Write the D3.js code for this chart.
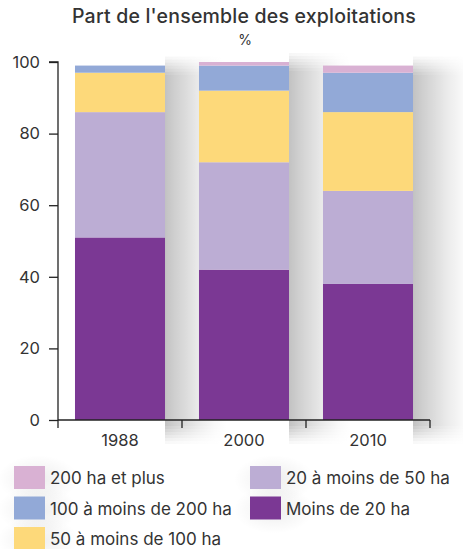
<!DOCTYPE html>
<html>
<head>
<meta charset="utf-8">
<script src="https://cdn.jsdelivr.net/npm/d3@7"></script>
<style>
body { margin: 0; background: #fff; }
text { font-family: Inter, "Liberation Sans", Arial, sans-serif; fill: #333; }
</style>
</head>
<body>
<div id="root"></div>
<script>
var width = 463;
var height = 549;

// data (% of farms)
var years = ["1988", "2000", "2010"];
var categories = ["Moins de 20 ha", "20 à moins de 50 ha", "50 à moins de 100 ha", "100 à moins de 200 ha", "200 ha et plus"];
var moins20 = [51, 42, 38];
var de20a50 = [35, 30, 26];
var de50a100 = [11, 20, 22];
var de100a200 = [2, 7, 11];
var plus200 = [0, 1, 2];
var colors = ["#7b3894", "#bcadd4", "#fdd97a", "#92a9d7", "#d9b1d3"];
var yTicks = [0, 20, 40, 60, 80, 100];

var svg = d3.select("#root")
.append("svg")
.attr("width", width)
.attr("height", height);

/*
grey shadow right of each bar, drawn with a gradient
(fades out to the right)
*/
var defs = svg.append("defs");
var sideShade = defs.append("linearGradient")
.attr("id", "sideShade")
.attr("x1", 0).attr("x2", 1).attr("y1", 0).attr("y2", 0);
[[0, 0.24], [0.15, 0.19], [0.55, 0.08], [0.8, 0.025], [1, 0]].forEach(function(s) {
	sideShade.append("stop")
	.attr("offset", s[0])
	.attr("stop-color", "#000")
	.attr("stop-opacity", s[1]);
});
var legendShade = defs.append("radialGradient")
.attr("id", "legendShade");
[[0, 0.07], [1, 0]].forEach(function(s) {
	legendShade.append("stop")
	.attr("offset", s[0])
	.attr("stop-color", "#000")
	.attr("stop-opacity", s[1]);
});

// build rows for the stack
var table = years.map(function(y, i) {
	return {
		year: y,
		"Moins de 20 ha": moins20[i],
		"20 à moins de 50 ha": de20a50[i],
		"50 à moins de 100 ha": de50a100[i],
		"100 à moins de 200 ha": de100a200[i],
		"200 ha et plus": plus200[i]
	};
});
var stack = d3.stack().keys(categories)(table);

var x = d3.scaleBand()
.domain(years)
.range([58, 430])
.paddingInner(0.274)
.paddingOuter(0.137);

var y = d3.scaleLinear()
.domain([0, 100])
.range([420, 62]);

var color = d3.scaleOrdinal()
.domain(categories)
.range(colors);

function total(d) {
	return d3.sum(categories, function(k) { return d[k]; });
}

/*
shadow body + thin slices at top and bottom so the ends fade out
slice: [offset from top of bar (or from axis), opacity]
*/
var topSlices = [[-9, 0.15], [-6, 0.3], [-3, 0.45], [0, 0.6], [3, 0.75], [6, 0.9]];
var bottomSlices = [[6, 0.85], [9, 0.7], [12, 0.55], [15, 0.4], [18, 0.25], [21, 0.12]];
var shadowW = 62;

var shadows = svg.append("g")
.selectAll("g")
.data(table)
.enter()
.append("g");
shadows.append("rect")
.attr("x", function(d) { return x(d.year) + x.bandwidth(); })
.attr("width", shadowW)
.attr("y", function(d) { return y(total(d)) + 9; })
.attr("height", function(d) { return y(0) + 6 - y(total(d)) - 9; })
.attr("fill", "url(#sideShade)");
shadows.selectAll("rect.top")
.data(function(d) {
	return topSlices.map(function(s) { return { row: d, s: s }; });
})
.enter()
.append("rect")
.attr("class", "top")
.attr("x", function(d) { return x(d.row.year) + x.bandwidth(); })
.attr("width", shadowW)
.attr("y", function(d) { return y(total(d.row)) + d.s[0]; })
.attr("height", 3)
.attr("opacity", function(d) { return d.s[1]; })
.attr("fill", "url(#sideShade)");
shadows.selectAll("rect.bottom")
.data(function(d) {
	return bottomSlices.map(function(s) { return { row: d, s: s }; });
})
.enter()
.append("rect")
.attr("class", "bottom")
.attr("x", function(d) { return x(d.row.year) + x.bandwidth(); })
.attr("width", shadowW)
.attr("y", function(d) { return y(0) + d.s[0]; })
.attr("height", 3)
.attr("opacity", function(d) { return d.s[1]; })
.attr("fill", "url(#sideShade)");

// bars
svg.append("g")
.selectAll("g")
.data(stack)
.enter()
.append("g")
.attr("fill", function(d) { return color(d.key); })
.selectAll("rect")
.data(function(d) { return d; })
.enter()
.append("rect")
.attr("x", function(d) { return x(d.data.year); })
.attr("width", x.bandwidth())
.attr("y", function(d) { return y(d[1]); })
.attr("height", function(d) { return y(d[0]) - y(d[1]); });

//title
svg.append("text")
.attr("x", 244)
.attr("y", 23)
.attr("text-anchor", "middle")
.style("font-size", "19.5px")
.style("font-weight", "500")
.style("letter-spacing", "0.2px")
.text("Part de l'ensemble des exploitations");

svg.append("text")
.attr("x", 245)
.attr("y", 45)
.attr("text-anchor", "middle")
.style("font-size", "14px")
.text("%");

// y axis
var yAxis = d3.axisLeft(y)
.tickValues(yTicks)
.tickSize(9)
.tickPadding(9);

var gy = svg.append("g")
.attr("transform", "translate(58,0)")
.call(yAxis);
gy.select(".domain").attr("stroke", "#222").attr("stroke-width", 1.3).attr("d", "M-9,62H0V420");
gy.selectAll(".tick line").attr("stroke", "#222").attr("stroke-width", 1.3);
gy.selectAll(".tick text")
.style("font-size", "16.5px")
.attr("font-family", null)
.attr("fill", "#333");

// x axis: ticks sit between the bars
var step = x.step();
var half = step * x.paddingInner() / 2;
var xEdges = years.map(function(d) { return x(d) - half; });
xEdges.push(x(years[years.length - 1]) + x.bandwidth() + half);

var gx = svg.append("g");
gx.append("line")
.attr("x1", xEdges[0]).attr("x2", xEdges[xEdges.length - 1])
.attr("y1", y(0)).attr("y2", y(0))
.attr("stroke", "#222").attr("stroke-width", 1.3);
gx.selectAll("line.tick")
.data(xEdges)
.enter()
.append("line")
.attr("class", "tick")
.attr("x1", function(d) { return d; })
.attr("x2", function(d) { return d; })
.attr("y1", y(0))
.attr("y2", y(0) + 8)
.attr("stroke", "#222").attr("stroke-width", 1.3);
gx.selectAll("text")
.data(years)
.enter()
.append("text")
.attr("x", function(d) { return x(d) + x.bandwidth() / 2; })
.attr("y", 446)
.attr("text-anchor", "middle")
.style("font-size", "16.5px")
.text(function(d) { return d; });

// legend, two columns
var legendOrder = ["200 ha et plus", "100 à moins de 200 ha", "50 à moins de 100 ha", "20 à moins de 50 ha", "Moins de 20 ha"];
function legendPos(i) {
	var col = i < 3 ? 0 : 1;
	var row = i < 3 ? i : i - 3;
	return [col == 0 ? 14 : 250, 466 + row * 30.5];
}

// faint haze behind legend swatches
svg.append("g")
.selectAll("ellipse")
.data(legendOrder)
.enter()
.append("ellipse")
.attr("cx", function(d, i) { return legendPos(i)[0] + 24; })
.attr("cy", function(d, i) { return legendPos(i)[1] + 13; })
.attr("rx", 40)
.attr("ry", 24)
.attr("fill", "url(#legendShade)");

var item = svg.append("g")
.selectAll("g")
.data(legendOrder)
.enter()
.append("g")
.attr("transform", function(d, i) {
	return "translate(" + legendPos(i)[0] + "," + legendPos(i)[1] + ")";
});
item.append("rect")
.attr("width", 31)
.attr("height", 23)
.attr("fill", function(d) { return color(d); });
item.append("text")
.attr("x", 36)
.attr("y", 18)
.style("font-size", "17px")
.text(function(d) { return d; });
</script>
</body>
</html>
